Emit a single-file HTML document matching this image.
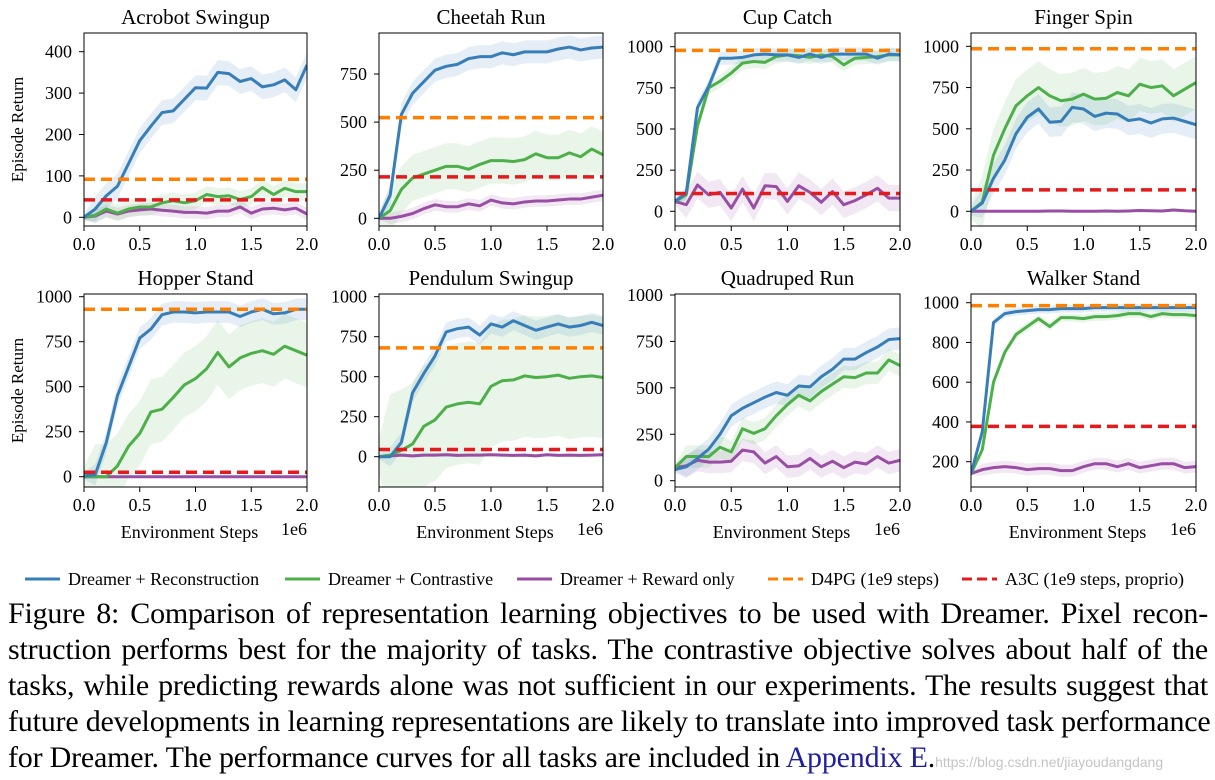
<!DOCTYPE html>
<html><head><meta charset="utf-8"><style>
body{margin:0;background:#fff;width:1215px;height:766px;overflow:hidden;position:relative;font-family:"Liberation Serif",serif}
.cap{position:absolute;left:8px;width:1200px;font-size:30px;letter-spacing:-0.2px;line-height:36px;text-align:justify;text-align-last:justify;white-space:nowrap;color:#000}
.cap.last{text-align-last:left}
</style></head><body>
<svg id="chart" width="1215" height="600" style="position:absolute;left:0;top:0" font-family="Liberation Serif, serif"></svg>
<div class="cap" style="top:596px">Figure 8: Comparison of representation learning objectives to be used with Dreamer. Pixel recon-</div>
<div class="cap" style="top:632px">struction performs best for the majority of tasks. The contrastive objective solves about half of the</div>
<div class="cap" style="top:668px">tasks, while predicting rewards alone was not sufficient in our experiments. The results suggest that</div>
<div class="cap" style="top:704px">future developments in learning representations are likely to translate into improved task performance</div>
<div class="cap last" style="top:740px">for Dreamer. The performance curves for all tasks are included in <span style="color:#1f1fa0">Appendix E</span>.<span style="font-family:'Liberation Sans',sans-serif;font-size:14px;color:#c4c4c4;margin-left:0px;letter-spacing:0">https://blog.csdn.net/jiayoudangdang</span></div>
<script>
const steps=[0,0.1,0.2,0.3,0.4,0.5,0.6,0.7,0.8,0.9,1.0,1.1,1.2,1.3,1.4,1.5,1.6,1.7,1.8,1.9,2.0];
const xTicks=[0,0.5,1.0,1.5,2.0];
const titles=["Acrobot Swingup","Cheetah Run","Cup Catch","Finger Spin","Hopper Stand","Pendulum Swingup","Quadruped Run","Walker Stand"];
const yTicks=[[0,100,200,300,400],[0,250,500,750],[0,250,500,750,1000],[0,250,500,750,1000],[0,250,500,750,1000],[0,250,500,750,1000],[0,250,500,750,1000],[200,400,600,800,1000]];
const recon=[
[0,20,52,75,130,185,220,253,257,285,313,312,350,347,328,335,315,320,332,308,368],
[0,120,540,650,710,770,790,800,830,840,840,860,850,865,865,865,880,890,875,885,890],
[60,110,630,760,930,930,935,950,955,950,950,935,955,935,955,955,955,955,930,955,950],
[0,50,200,310,470,570,620,540,545,630,620,575,595,590,550,560,535,560,565,545,525],
[5,10,190,450,610,770,820,900,915,915,910,915,915,915,890,915,930,905,910,930,930],
[0,0,90,400,520,630,780,800,810,760,830,810,850,820,790,810,830,810,820,840,820],
[60,75,120,170,250,350,390,420,450,475,460,510,505,560,600,655,655,690,720,760,765],
[140,350,900,945,955,960,965,965,970,970,970,975,975,975,975,975,975,975,975,975,975]];
const contrast=[
[0,5,20,10,20,25,25,35,40,35,40,55,50,52,43,50,72,55,70,62,62],
[0,40,150,210,230,250,270,270,255,280,300,300,295,305,335,315,315,340,320,360,330],
[60,100,520,750,790,840,900,910,905,940,950,945,935,950,940,890,930,935,940,950,950],
[0,55,340,500,640,700,750,700,670,680,710,680,685,720,700,770,750,760,700,740,780],
[0,0,0,60,170,240,360,375,440,510,545,600,690,610,660,685,700,680,725,700,675],
[0,10,40,80,190,230,310,330,340,330,440,475,480,505,495,500,510,490,500,505,495],
[70,130,130,130,180,155,280,255,280,350,410,460,430,480,520,560,555,580,580,650,620],
[140,260,600,750,840,880,920,880,925,925,920,930,930,935,945,945,930,945,940,940,935]];
const reward=[
[0,3,15,8,15,18,20,17,15,12,12,10,15,15,25,10,20,22,18,22,8],
[0,0,10,25,50,70,60,60,75,65,95,80,75,85,90,90,95,100,100,110,120],
[60,40,160,100,115,20,135,20,155,150,60,155,115,55,120,40,65,100,140,80,80],
[0,0,0,0,0,0,0,2,2,0,0,0,2,0,2,5,3,2,8,3,0],
[0,0,0,0,0,0,0,0,0,0,0,0,0,0,0,0,0,0,0,0,0],
[0,5,10,5,10,10,12,8,10,10,12,10,8,10,5,12,8,10,8,10,12],
[70,80,110,100,100,105,165,155,95,130,75,80,120,75,105,70,100,90,130,95,110],
[140,160,170,175,170,160,165,165,155,155,175,190,190,175,190,170,180,190,190,170,175]];
const reconSpread=[30,60,40,90,60,60,60,20];
const contrastSpread=[20,120,40,160,180,380,60,20];
const rewardSpread=[15,30,80,5,5,10,60,30];
const d4pg=[92,523,978,985,930,680,null,985];
const a3c=[42,215,108,130,25,45,null,378];
// layout: [x0,x1,top,bottom, v0,px0, v1,px1]
const L=[[84,307,33,226,0,217.3,400,51.7],[379,603,33,226,0,218.3,750,74],[675,900,33,226,0,211.3,1000,46.7],[971,1196,33,226,0,211.3,1000,46.3],
[84,307,294,487,0,476.7,1000,296.7],[379,603,294,487,0,456.7,1000,296.7],[675,900,294,487,0,480.7,1000,295],[971,1196,294,487,200,461.7,1000,302.7]];
const NS='http://www.w3.org/2000/svg',svg=document.getElementById('chart');
function mk(t,a,p){const e=document.createElementNS(NS,t);for(const k in a)e.setAttribute(k,a[k]);(p||svg).appendChild(e);return e;}
const C={b:'#377eb8',g:'#4daf4a',p:'#984ea3',o:'#ff7f00',r:'#e41a1c'};
L.forEach((l,i)=>{
 const [x0,x1,top,bot,v0,p0,v1,p1]=l;
 const g=mk('g',{});
 
 
 const sx=v=>x0+(x1-x0)*v/2, sy=v=>p0+(v-v0)*(p1-p0)/(v1-v0);
 const cp=mk('clipPath',{id:'c'+i},g);mk('rect',{x:x0,y:top,width:x1-x0,height:bot-top},cp);
 const pg=mk('g',{'clip-path':'url(#c'+i+')'},g);
 [[reward[i],rewardSpread[i],C.p,'reward-only'],[contrast[i],contrastSpread[i],C.g,'contrastive'],[recon[i],reconSpread[i],C.b,'reconstruction']].forEach(([d,s,c,n])=>{
  let up=d.map((v,k)=>sx(steps[k])+','+sy(v+s*(k?1:0.3))).join(' ');
  let lo=d.map((v,k)=>sx(steps[k])+','+sy(v-s*(k?1:0.3))).reverse().join(' ');
  const band=mk('polygon',{points:up+' '+lo,fill:c,'fill-opacity':0.13},pg);
  
  
 });
 [[reward[i],C.p,'reward-only'],[contrast[i],C.g,'contrastive'],[recon[i],C.b,'reconstruction']].forEach(([d,c,n])=>{
  const ln=mk('polyline',{points:d.map((v,k)=>sx(steps[k])+','+sy(v)).join(' '),fill:'none',stroke:c,'stroke-width':3,'stroke-linejoin':'round'},pg);
  
  
 });
 [[d4pg[i],C.o,'d4pg'],[a3c[i],C.r,'a3c']].forEach(([v,c,n])=>{ if(v==null)return;
  const h=mk('line',{x1:x0,x2:x1,y1:sy(v),y2:sy(v),stroke:c,'stroke-width':3.5,'stroke-dasharray':'11,6'},pg);
  
  
 });
 mk('rect',{x:x0,y:top,width:x1-x0,height:bot-top,fill:'none',stroke:'#000','stroke-width':1},g);
 const t=mk('text',{x:(x0+x1)/2,y:top-9,'text-anchor':'middle','font-size':21},g);t.textContent=titles[i];
 
 xTicks.forEach(v=>{mk('line',{x1:sx(v),x2:sx(v),y1:bot,y2:bot+5,stroke:'#000'},g);
  const tt=mk('text',{x:sx(v),y:bot+24,'text-anchor':'middle','font-size':18},g);tt.textContent=v.toFixed(1);});
 yTicks[i].forEach(v=>{mk('line',{x1:x0-5,x2:x0,y1:sy(v),y2:sy(v),stroke:'#000'},g);
  const tt=mk('text',{x:x0-12,y:sy(v)+6,'text-anchor':'end','font-size':18},g);tt.textContent=v;});
 if(i%4==0){const yl=mk('text',{transform:`translate(${x0-61},${(top+bot)/2}) rotate(-90)`,'text-anchor':'middle','font-size':17},g);yl.textContent='Episode Return';
  }
 if(i>=4){const xl=mk('text',{x:(x0+x1)/2-6,y:538,'text-anchor':'middle','font-size':18},g);xl.textContent='Environment Steps';
  
  const e=mk('text',{x:x1,y:535,'text-anchor':'end','font-size':18},g);e.textContent='1e6';}
});
const legend=[['Dreamer + Reconstruction',C.b,false,25],['Dreamer + Contrastive',C.g,false,285],['Dreamer + Reward only',C.p,false,517],['D4PG (1e9 steps)',C.o,true,768],['A3C (1e9 steps, proprio)',C.r,true,962]];
legend.forEach(([n,c,d,x])=>{
 const g=mk('g',{});
 
 
 mk('line',{x1:x,x2:x+35,y1:579,y2:579,stroke:c,'stroke-width':3,'stroke-dasharray':d?'10,5':'none'},g);
 const t=mk('text',{x:x+43,y:585,'font-size':18},g);t.textContent=n;
});
</script>
</body></html>
